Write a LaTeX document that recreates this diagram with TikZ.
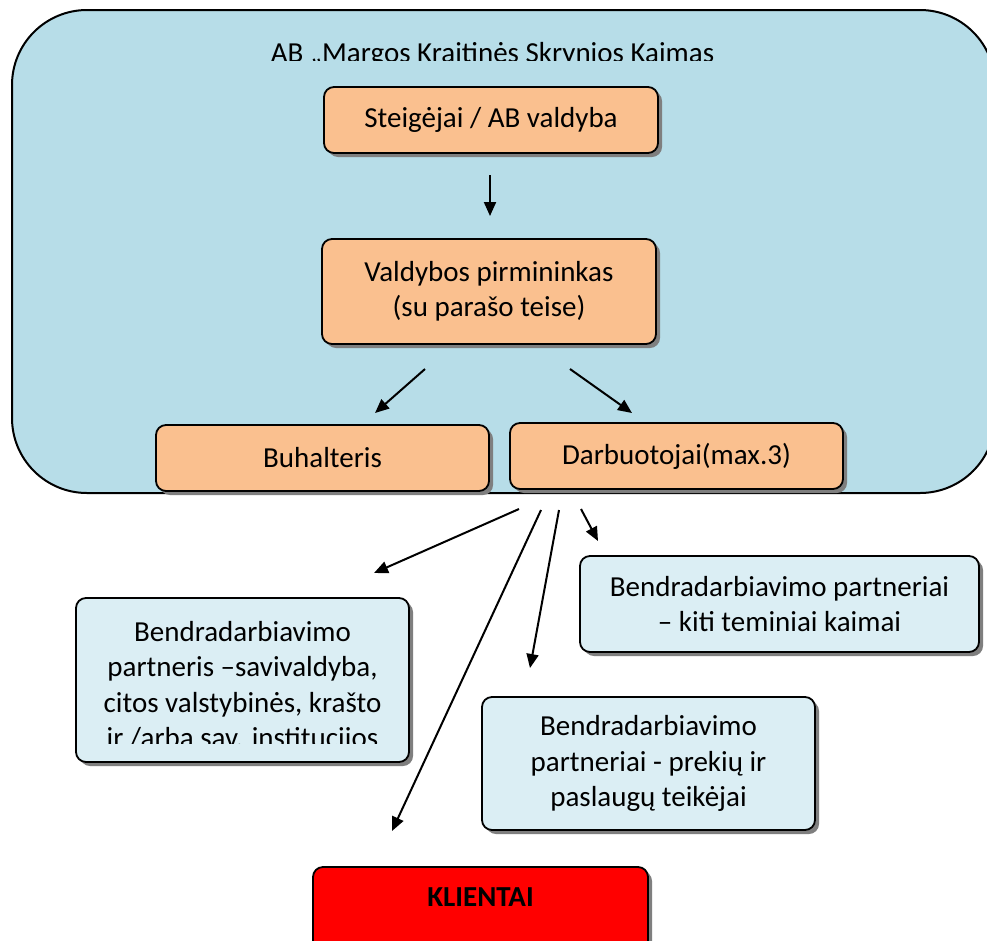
\documentclass[tikz,border=0pt]{standalone}
\usepackage{fontspec}
\setmainfont{Carlito}
\usetikzlibrary{arrows.meta,shadows}
\definecolor{bigblue}{HTML}{B7DDE8}
\definecolor{orangebox}{HTML}{FAC08F}
\definecolor{paleblue}{HTML}{DBEEF4}
\definecolor{shadowgray}{HTML}{7F7F7F}
\definecolor{klred}{HTML}{FF0000}
\begin{document}
\begin{tikzpicture}[x=1pt,y=-1pt,
  box/.style={draw=black, line width=1.8pt, rounded corners=10pt, inner sep=0pt,
    drop shadow={shadow xshift=4pt, shadow yshift=-4pt, fill=shadowgray, opacity=1}},
  orangebox/.style={box, fill=orangebox},
  partnerbox/.style={box, fill=paleblue},
  lbl/.style={font=\fontsize{29}{35.5}\selectfont, align=center, inner sep=0pt},
  conn/.style={line width=2pt, -{Triangle[length=14pt,width=12pt]}}]
\useasboundingbox (0,0) rectangle (987,940);
\clip (0,0) rectangle (987,940);
\fill[white] (0,0) rectangle (987,940);

% organisation frame
\node[draw=black, fill=bigblue, line width=2pt, rounded corners=75pt,
  minimum width=983pt, minimum height=483pt, inner sep=0pt] (org) at (503.5,251.5) {};

\begin{scope}
  \clip (0,0) rectangle (987,60);
  \node[lbl, anchor=base] (title) at (492.5,62) {AB „Margos Kraitinės Skrynios Kaimas};
\end{scope}

\node[orangebox, lbl, minimum width=334pt, minimum height=66pt] (steig) at (491,120) {Steigėjai / AB valdyba};
\node[orangebox, lbl, minimum width=334pt, minimum height=105pt] (pirm) at (489,291.5) {Valdybos pirmininkas\\(su parašo teise)};
\node[orangebox, lbl, minimum width=333pt, minimum height=66pt] (buh) at (322.5,458) {Buhalteris};
\node[orangebox, lbl, minimum width=333pt, minimum height=66pt] (darb) at (676.5,456) {Darbuotojai(max.3)};

\node[partnerbox, minimum width=333pt, minimum height=164pt] (savi) at (242.5,680) {};
\begin{scope}
  \clip (76,598) rectangle (409,743);
  \node[lbl] (savitext) at (242.5,687) {Bendradarbiavimo\\partneris –savivaldyba,\\citos valstybinės, krašto\\ir /arba sav. institucijos};
\end{scope}
\node[partnerbox, lbl, minimum width=333pt, minimum height=133pt] (prek) at (648.5,763.5) {Bendradarbiavimo\\partneriai - prekių ir\\paslaugų teikėjai};
\node[partnerbox, lbl, minimum width=399pt, minimum height=96pt] (kaim) at (779.5,604) {Bendradarbiavimo partneriai\\– kiti teminiai kaimai};

\node[box, fill=klred, minimum width=335pt, minimum height=88pt] (klient) at (480.5,911) {};
\node[lbl, font=\fontsize{29}{35.5}\selectfont\bfseries] (klienttext) at (480.5,897) {KLIENTAI};

% connectors
\coordinate (a1s) at (490,175);  \coordinate (a1e) at (490,216);
\coordinate (a2s) at (425,369);  \coordinate (a2e) at (375,413);
\coordinate (a3s) at (570,369);  \coordinate (a3e) at (632,413);
\coordinate (a4s) at (519,509);  \coordinate (a4e) at (374,573);
\coordinate (a5s) at (541,510);  \coordinate (a5e) at (392,831);
\coordinate (a6s) at (559,510);  \coordinate (a6e) at (530,668);
\coordinate (a7s) at (581,509);  \coordinate (a7e) at (598,541);
\draw[conn] (a1s) -- (a1e);
\draw[conn] (a2s) -- (a2e);
\draw[conn] (a3s) -- (a3e);
\draw[conn] (a4s) -- (a4e);
\draw[conn] (a5s) -- (a5e);
\draw[conn] (a6s) -- (a6e);
\draw[conn] (a7s) -- (a7e);
\end{tikzpicture}
\end{document}
